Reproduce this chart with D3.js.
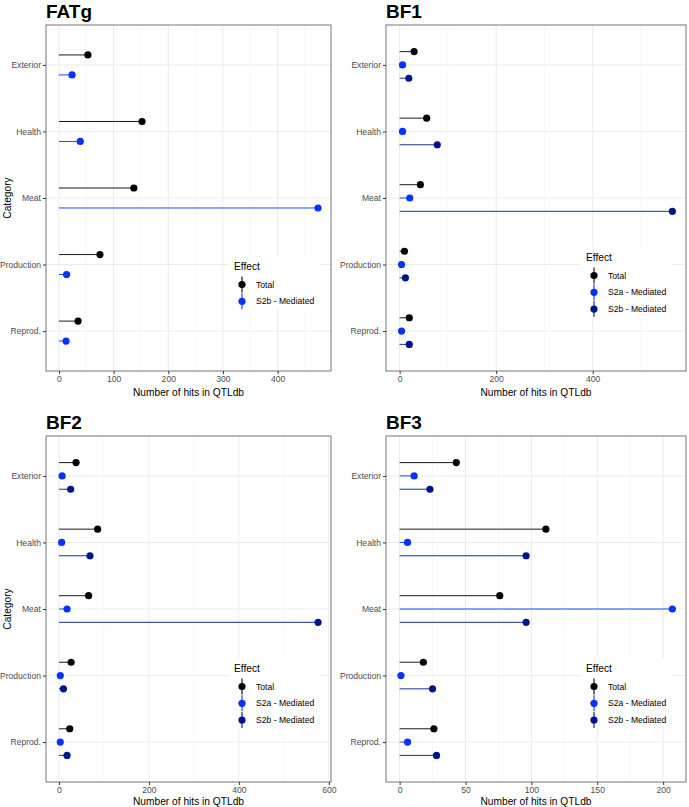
<!DOCTYPE html>
<html>
<head>
<meta charset="utf-8">
<script src="https://cdn.jsdelivr.net/npm/d3@7"></script>
<style>
  body { margin: 0; background: #fff; }
  svg { display: block; font-family: "Liberation Sans", Arial, sans-serif; }
  .grid line { stroke: #ebebeb; }
  .grid .minor { stroke: #f4f4f4; }
</style>
</head>
<body>
<div id="chart"></div>
<script>
const categories = ["Exterior", "Health", "Meat", "Production", "Reprod."];

const fatgTotal = [53, 152, 137, 75, 35];
const fatgS2b = [24, 39, 474, 14, 13];

const bf1Total = [30, 56, 43, 10, 20];
const bf1S2a = [6, 6, 21, 4, 4];
const bf1S2b = [19, 78, 565, 12, 20];

const bf2Total = [38, 86, 66, 27, 24];
const bf2S2a = [7, 6, 18, 3, 3];
const bf2S2b = [26, 69, 576, 10, 18];

const bf3Total = [43, 111, 76, 18, 26];
const bf3S2a = [11, 6, 207, 1, 6];
const bf3S2b = [23, 96, 96, 25, 28];

const fatgTicks = [0, 100, 200, 300, 400];
const bf1Ticks = [0, 200, 400];
const bf2Ticks = [0, 200, 400, 600];
const bf3Ticks = [0, 50, 100, 150, 200];

const panels = [
  { title: "FATg", x: 46, y: 25, ticks: fatgTicks, minorStep: 50, leftAxis: true,
    series: [["Total", fatgTotal], ["S2b - Mediated", fatgS2b]],
    colors: ["#000000", "#0433ff"], legend: [188, 241] },
  { title: "BF1", x: 386, y: 25, ticks: bf1Ticks, minorStep: 100, leftAxis: false,
    series: [["Total", bf1Total], ["S2a - Mediated", bf1S2a], ["S2b - Mediated", bf1S2b]],
    colors: ["#000000", "#0433ff", "#00158c"], legend: [200, 232] },
  { title: "BF2", x: 46, y: 436, ticks: bf2Ticks, minorStep: 100, leftAxis: true,
    series: [["Total", bf2Total], ["S2a - Mediated", bf2S2a], ["S2b - Mediated", bf2S2b]],
    colors: ["#000000", "#0433ff", "#00158c"], legend: [188, 232] },
  { title: "BF3", x: 386, y: 436, ticks: bf3Ticks, minorStep: 25, leftAxis: false,
    series: [["Total", bf3Total], ["S2a - Mediated", bf3S2a], ["S2b - Mediated", bf3S2b]],
    colors: ["#000000", "#0433ff", "#00158c"], legend: [200, 232] }
];

const ph = 346;

const svg = d3.select("#chart").append("svg")
  .attr("width", 689).attr("height", 807);

panels.forEach(p => {
  const g = svg.append("g").attr("transform", `translate(${p.x}, ${p.y})`);
  // right column is a bit wider
  const w = p.x > 300 ? 300 : 285;

  const maxVal = d3.max(p.series, s => d3.max(s[1]));
  const x = d3.scaleLinear()
    .domain([-0.05 * maxVal, 1.05 * maxVal])
    .range([0, w]);

  const y = d3.scalePoint()
    .domain(categories)
    .range([0, ph])
    .padding(0.6);

  const n = p.series.length;
  const dodge = 0.6 * y.step() / n;
  const off = i => (i - (n - 1) / 2) * dodge;

  // grid
  const grid = g.append("g").attr("class", "grid");
  const minor = d3.range(p.minorStep, x.domain()[1], p.minorStep * 2);
  grid.selectAll(".minor").data(minor).enter().append("line")
    .attr("class", "minor")
    .attr("x1", d => x(d)).attr("x2", d => x(d))
    .attr("y1", 0).attr("y2", ph)
    .attr("stroke-width", 0.6);
  grid.selectAll(".majx").data(p.ticks).enter().append("line")
    .attr("x1", d => x(d)).attr("x2", d => x(d))
    .attr("y1", 0).attr("y2", ph)
    .attr("stroke-width", 1);
  grid.selectAll(".majy").data(categories).enter().append("line")
    .attr("x1", 0).attr("x2", w)
    .attr("y1", d => y(d)).attr("y2", d => y(d))
    .attr("stroke-width", 1);

  // lollipops
  p.series.forEach((s, i) => {
    const col = p.colors[i];
    const sg = g.append("g");
    sg.selectAll("line").data(s[1]).enter().append("line")
      .attr("x1", x(0))
      .attr("x2", d => x(d))
      .attr("y1", (d, j) => y(categories[j]) + off(i))
      .attr("y2", (d, j) => y(categories[j]) + off(i))
      .attr("stroke", col)
      .attr("stroke-width", 0.9);
    sg.selectAll("circle").data(s[1]).enter().append("circle")
      .attr("cx", d => x(d))
      .attr("cy", (d, j) => y(categories[j]) + off(i))
      .attr("r", 3.6)
      .attr("fill", col);
  });

  // border
  g.append("rect")
    .attr("width", w).attr("height", ph)
    .attr("fill", "none").attr("stroke", "#777").attr("stroke-width", 1);

  // axes
  const xAxis = g.append("g")
    .attr("transform", `translate(0, ${ph})`)
    .call(d3.axisBottom(x).tickValues(p.ticks).tickSize(3).tickPadding(2).tickFormat(d3.format("d")));
  const yAxis = g.append("g")
    .call(d3.axisLeft(y).tickSize(3).tickPadding(2));
  [xAxis, yAxis].forEach(a => {
    a.select(".domain").remove();
    a.selectAll(".tick line").attr("stroke", "#333");
    a.selectAll(".tick text").attr("fill", "#4d4d4d")
      .style("font-size", "8.6px").style("font-family", "Liberation Sans, Arial, sans-serif");
  });

  g.append("text")
    .attr("x", w / 2).attr("y", p.y > 300 ? ph + 23 : ph + 25)
    .attr("text-anchor", "middle")
    .style("font-size", "10.2px")
    .text("Number of hits in QTLdb");

  if (p.leftAxis) {
    g.append("text")
      .attr("transform", `translate(${-p.x + 11}, ${ph / 2}) rotate(-90)`)
      .attr("text-anchor", "middle")
      .style("font-size", "10.2px")
      .text("Category");
  }

  g.append("text")
    .attr("x", 0).attr("y", -7.5)
    .style("font-size", "19px").style("font-weight", "bold")
    .text(p.title);

  // legend
  const lg = g.append("g").attr("transform", `translate(${p.legend[0]}, ${p.legend[1]})`);
  lg.append("rect")
    .attr("x", -6).attr("y", -10)
    .attr("width", 92).attr("height", 20 + n * 16.8)
    .attr("fill", "#fff");
  lg.append("text")
    .attr("x", 0).attr("y", 4)
    .style("font-size", "10.2px")
    .text("Effect");
  p.series.forEach((s, i) => {
    const ky = 18.5 + i * 16.8;
    lg.append("line")
      .attr("x1", 8).attr("x2", 8)
      .attr("y1", ky - 8).attr("y2", ky + 8)
      .attr("stroke", p.colors[i]).attr("stroke-width", 1.1);
    lg.append("circle")
      .attr("cx", 8).attr("cy", ky).attr("r", 3.6)
      .attr("fill", p.colors[i]);
    lg.append("text")
      .attr("x", 22).attr("y", ky + 3)
      .style("font-size", "8.6px")
      .attr("fill", "#000")
      .text(s[0]);
  });
});
</script>
</body>
</html>
